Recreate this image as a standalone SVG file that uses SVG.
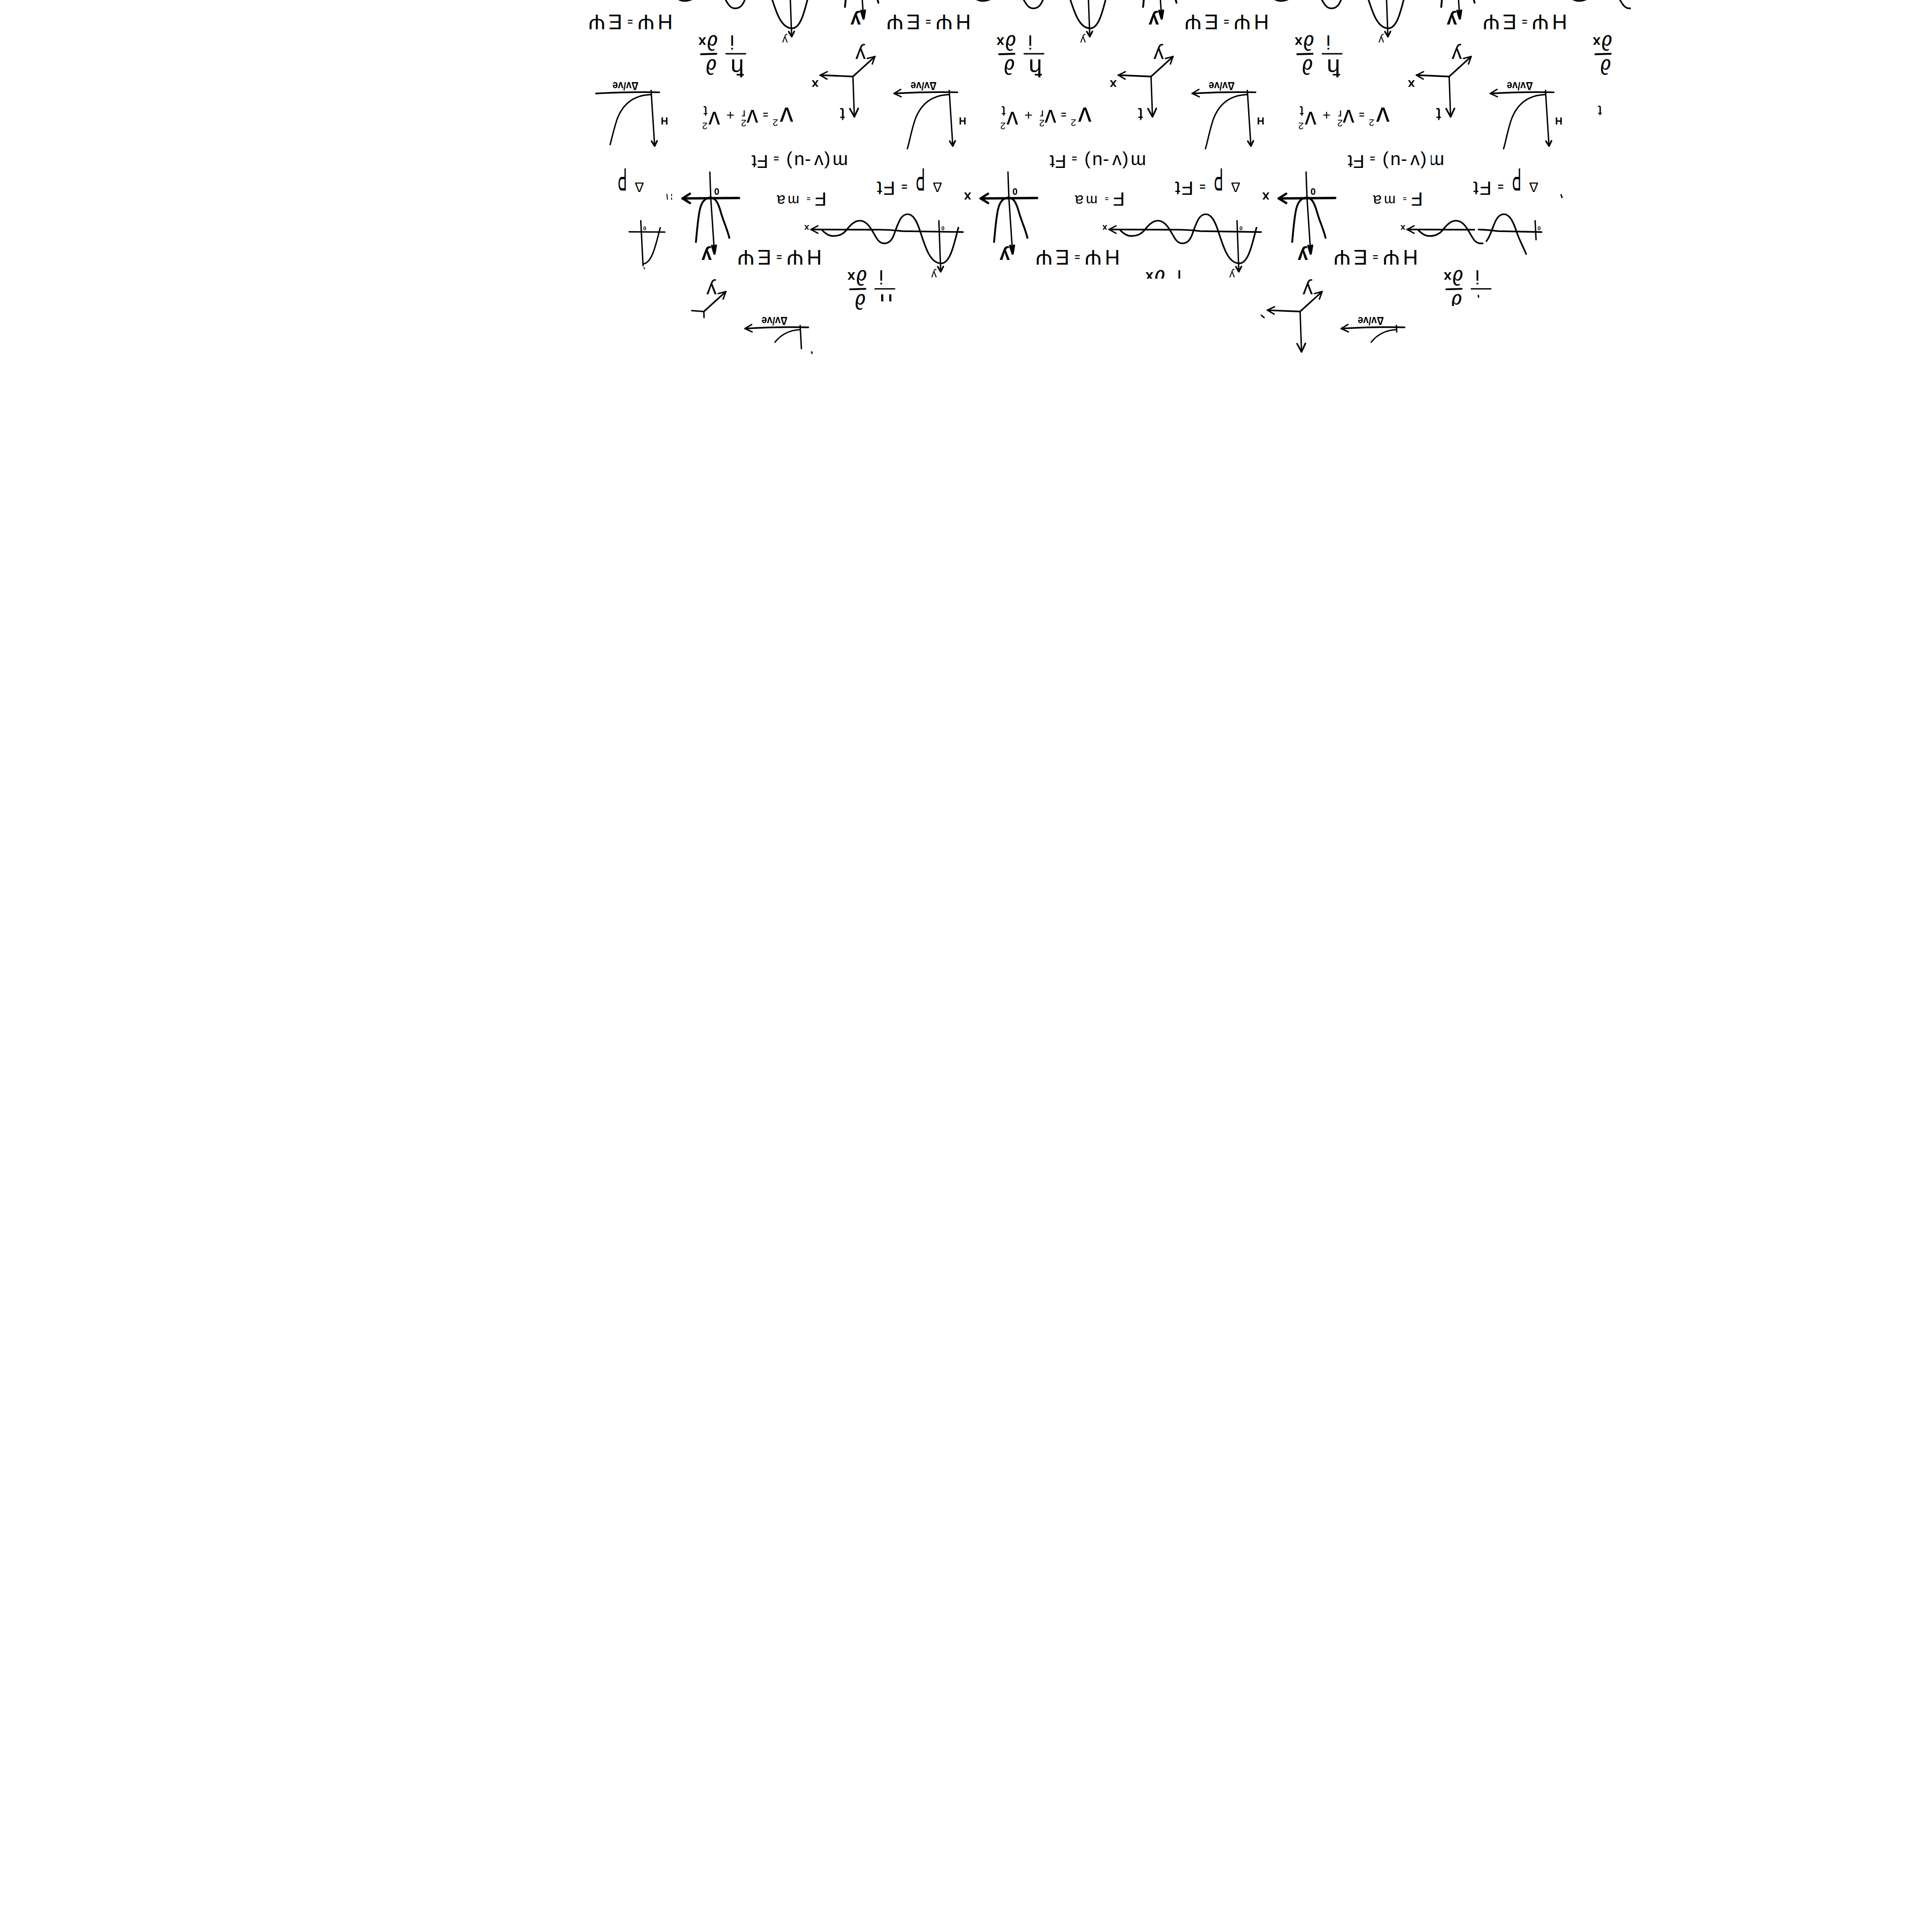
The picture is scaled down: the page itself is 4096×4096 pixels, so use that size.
<svg xmlns="http://www.w3.org/2000/svg" xmlns:xlink="http://www.w3.org/1999/xlink" width="4096" height="4096" viewBox="0 0 4096 4096">
<style>
.k{fill:none;stroke:#000;stroke-width:3;stroke-linecap:round;stroke-linejoin:round}
.w2{stroke-width:2}.w35{stroke-width:3.5}.w4{stroke-width:4}.w5{stroke-width:5}
.t{font-family:"Liberation Sans",Arial,sans-serif;fill:#000}
.a{text-anchor:middle}.b{font-weight:bold}
.s12{font-size:12px}.s14{font-size:14px}.s19{font-size:19px}.s20{font-size:20px}.s21{font-size:21px}.s22{font-size:22px}.s24{font-size:24px}.s25{font-size:25px}.s27{font-size:27px}.s28{font-size:28px}.s30{font-size:30px}.s32{font-size:32px}.s34{font-size:34px}.s40{font-size:40px}.s42{font-size:42px}.s44{font-size:44px}.s45{font-size:45px}.s46{font-size:46px}.s50{font-size:50px}.s52{font-size:52px}.s58{font-size:58px}.s70{font-size:70px}
</style>
<defs>
<marker id="h" viewBox="-20 -12 24 24" markerWidth="24" markerHeight="24" orient="auto" markerUnits="userSpaceOnUse"><path class="k" d="M-15-8L0 0L-15 8"/></marker>
<marker id="hd" viewBox="-22 -12 26 24" markerWidth="26" markerHeight="24" orient="auto" markerUnits="userSpaceOnUse"><path class="k w35" d="M-18-9L0 0L-18 9"/></marker>
<marker id="hs" viewBox="-16 -10 20 20" markerWidth="20" markerHeight="20" orient="auto" markerUnits="userSpaceOnUse"><path class="k w35" d="M-11-6L0 0L-11 6"/></marker>
<marker id="hb" viewBox="-24 -14 28 28" markerWidth="28" markerHeight="28" orient="auto" markerUnits="userSpaceOnUse"><path class="k w5" d="M-16-10L0 0L-16 10"/></marker>
<marker id="hn" viewBox="-24 -12 28 24" markerWidth="28" markerHeight="24" orient="auto" markerUnits="userSpaceOnUse"><path class="k w5" d="M-17-4L0 0L-17 4"/></marker>
<clipPath id="c93"><rect x="0" y="0" width="5000" height="94"/></clipPath>
<clipPath id="c143"><rect x="0" y="0" width="5000" height="143"/></clipPath>
<clipPath id="c153"><rect x="0" y="0" width="5000" height="153"/></clipPath>
<clipPath id="c1910"><rect x="0" y="0" width="1910" height="2000"/></clipPath>
<g id="f1"><path class="k w4" d="M1512 117L1545 116"/></g>
<g id="f2"><path class="k" d="M1566 116L1608 116"/></g>
<g id="ax3"><path class="k w35" d="M1839.6 165L1887 122" marker-end="url(#h)"/><path class="k w35" d="M1839.6 165L1769 162" marker-end="url(#h)"/><path class="k" d="M1839.6 165L1842.7 252" marker-end="url(#hd)"/></g>
<path id="e4v" class="k" d="M1404.3 195L1412 315" marker-end="url(#hs)"/>
<path id="e4a" class="k w35" d="M1422 199C1380 198 1330 199 1285.3 201.7"/>
<path id="e4ah" class="k w35" d="M1422 199C1380 198 1330 199 1285.3 201.7" marker-end="url(#h)"/>
<path id="e4c" class="k" d="M1404 204C1371 205 1345 220 1331 257C1323 280 1320 300 1314 320.7"/>
<g id="gr8"><path class="k w4" d="M1501 522C1504 490 1506 465 1510 450C1514 433 1522 427 1532 426C1543 427 1548 436 1553 452C1560 478 1568 492 1573 513"/><path class="k" d="M1531 371L1533 427L1541 547" marker-end="url(#hn)"/><path class="k w5" d="M1594 427L1472 428" marker-end="url(#hb)"/></g>
<path id="wc" class="k w35" d="M2067 491C2058 525 2050 568 2030 568C2005 568 1995 530 1985 500C1978 478 1970 462 1958 462C1943 462 1938 480 1931 498C1925 518 1918 525 1907 525C1893 525 1888 507 1880.6 497C1874 485 1865 476 1854 476C1842 476 1832 488 1825 497C1818 505 1810 509 1798 509C1787 509 1780 503 1773.5 497"/>
<path id="wa" class="k w35" d="M2077 500.5L1945 498.5C1925 496 1900 495 1880 495.5L1749 495" marker-end="url(#h)"/>
<path id="wv" class="k" d="M2025 476L2029 586" marker-end="url(#hs)"/>
</defs>
<rect width="4096" height="4096" fill="#fff"/>
<g transform="scale(0.98296)">

<g id="top-row">
<g id="w-top-0" transform="translate(-321.5 -507)"><use href="#wc"/><use href="#wv"/><text class="t s24 a" transform="translate(2014.5 585) rotate(180)">y</text></g>
<g id="w-top-1" transform="translate(321.5 -507)"><use href="#wc"/><use href="#wv"/><text class="t s24 a" transform="translate(2014.5 585) rotate(180)">y</text></g>
<g id="w-top-2" transform="translate(964.5 -507)"><use href="#wc"/><use href="#wv"/><text class="t s24 a" transform="translate(2014.5 585) rotate(180)">y</text></g>
<g id="w-top-3" transform="translate(1607.5 -507)"><g clip-path="url(#c1910)"><use href="#wc"/></g></g>
<g id="p-top-0" transform="translate(321.5 -507)"><use href="#gr8"/><text class="t s40 b a" transform="translate(1524 539) rotate(180)">y</text></g>
<g id="p-top-1" transform="translate(964.5 -507)"><use href="#gr8"/><text class="t s40 b a" transform="translate(1524 539) rotate(180)">y</text></g>
<g id="p-top-2" transform="translate(1607.5 -507)"><use href="#gr8"/><text class="t s40 b a" transform="translate(1524 539) rotate(180)">y</text></g>
</g>

<g id="tile-0-left"><path class="k" d="M1357 500L1434 500.5"/><path class="k" d="M1382 476L1387 573"/><path class="k" d="M1424 491C1415 525 1407 568 1387 569"/><path class="k w2" d="M1389 577L1390 580"/><text class="t s12 b a" transform="translate(1390.5 488) rotate(180)">0</text></g>

<g id="tile-0-0">
<text class="t s45" transform="translate(1447 32) rotate(180)"><tspan x="-4">H</tspan><tspan x="35">Ψ</tspan><tspan class="s20 b" x="82" y="-8">=</tspan><tspan x="105" y="0">E</tspan><tspan x="141">Ψ</tspan></text>
<use href="#f1"/><use href="#f2"/>
<text class="t s46" transform="translate(1548 76) rotate(180)">∂<tspan class="s30 b" x="25" y="-4">x</tspan></text>
<text class="t s46 a" transform="translate(1534 128) rotate(180)">∂</text>
<text class="t s42 a" transform="translate(1579 76) rotate(180)">i</text>
<text class="t s52 a" transform="translate(1590 128) rotate(180)">ħ</text>
<use href="#ax3"/>
<text class="t s44 a" transform="translate(1856 104) rotate(180)">y</text><text class="t s27 b a" transform="translate(1758 173) rotate(180)">x</text><text class="t s40 a" transform="translate(1817 233) rotate(180)">t</text>
<use href="#e4a"/><path class="k" d="M1404.3 195L1412 315" marker-end="url(#hs)"/><path class="k" d="M1404 204C1371 205 1345 220 1331 257C1325 275 1321 292 1316 312"/>
<text class="t s22 b a" transform="translate(1433 253) rotate(180)">H</text>
<text class="t s24 b" textLength="56" lengthAdjust="spacingAndGlyphs" transform="translate(1377 177) rotate(180)">Δv/ve</text>
<text class="t s58" transform="translate(1711 232) rotate(180)">v<tspan class="s21" x="33" y="-25">2</tspan><tspan class="s20 b" x="54" y="-8">=</tspan><tspan class="s50" x="76" y="-5">v</tspan><tspan class="s25" x="103" y="-6">r</tspan><tspan class="s21" x="101" y="-26">2</tspan><tspan class="s30" x="127" y="-6">+</tspan><tspan class="s50" x="158" y="-9">v</tspan><tspan class="s32" x="185" y="3">t</tspan><tspan class="s21" x="185" y="-33">2</tspan></text>
<text class="t s40" transform="translate(1827 335) rotate(180)"><tspan x="-2">m</tspan><tspan x="36">(</tspan><tspan x="51">v</tspan><tspan x="78">-</tspan><tspan x="92">u</tspan><tspan x="118">)</tspan><tspan class="s20 b" x="147">=</tspan><tspan x="170">F</tspan><tspan x="195">t</tspan></text>
<text class="t s30" transform="translate(1389 394) rotate(180)">Δ</text>
<text class="t s70" transform="translate(1352 363) rotate(180) scale(.42 1)">P</text>
<use href="#gr8"/>
<text class="t s20 b a" transform="translate(1546 406) rotate(180)">0</text>
<path class="k w2" d="M1438.5 419L1439.5 430M1448.5 419v3M1448.5 427v3"/>
<text class="t s40 b a" transform="translate(1524 539) rotate(180)">y</text>
<text class="t s42" transform="translate(1778 415) rotate(180)"><tspan x="-5">F</tspan><tspan class="s14 b" x="30" y="-8">=</tspan><tspan class="s30" x="54" y="-7">m</tspan><tspan class="s34" x="84" y="-6">a</tspan></text>
<use href="#wc"/><use href="#wa"/><use href="#wv"/>
<text class="t s19 b a" transform="translate(1740 485) rotate(180)">x</text><text class="t s12 b a" transform="translate(2033.5 488) rotate(180)">0</text><text class="t s24 a" transform="translate(2014.5 585) rotate(180)">y</text>
</g>

<g id="tile-0-1" transform="translate(643 0)">
<text class="t s45" transform="translate(1447 32) rotate(180)"><tspan x="-4">H</tspan><tspan x="35">Ψ</tspan><tspan class="s20 b" x="82" y="-8">=</tspan><tspan x="105" y="0">E</tspan><tspan x="141">Ψ</tspan></text>
<use href="#f1"/><use href="#f2"/>
<text class="t s46" transform="translate(1548 76) rotate(180)">∂<tspan class="s30 b" x="25" y="-4">x</tspan></text>
<text class="t s46 a" transform="translate(1534 128) rotate(180)">∂</text>
<text class="t s42 a" transform="translate(1579 76) rotate(180)">i</text>
<text class="t s52 a" transform="translate(1590 128) rotate(180)">ħ</text>
<use href="#ax3"/>
<text class="t s44 a" transform="translate(1856 104) rotate(180)">y</text><text class="t s27 b a" transform="translate(1758 173) rotate(180)">x</text><text class="t s40 a" transform="translate(1817 233) rotate(180)">t</text>
<use href="#e4ah"/><use href="#e4v"/><use href="#e4c"/>
<text class="t s22 b a" transform="translate(1433 253) rotate(180)">H</text>
<text class="t s24 b" textLength="56" lengthAdjust="spacingAndGlyphs" transform="translate(1377 177) rotate(180)">Δv/ve</text>
<text class="t s58" transform="translate(1711 232) rotate(180)">v<tspan class="s21" x="33" y="-25">2</tspan><tspan class="s20 b" x="54" y="-8">=</tspan><tspan class="s50" x="76" y="-5">v</tspan><tspan class="s25" x="103" y="-6">r</tspan><tspan class="s21" x="101" y="-26">2</tspan><tspan class="s30" x="127" y="-6">+</tspan><tspan class="s50" x="158" y="-9">v</tspan><tspan class="s32" x="185" y="3">t</tspan><tspan class="s21" x="185" y="-33">2</tspan></text>
<text class="t s40" transform="translate(1827 335) rotate(180)"><tspan x="-2">m</tspan><tspan x="36">(</tspan><tspan x="51">v</tspan><tspan x="78">-</tspan><tspan x="92">u</tspan><tspan x="118">)</tspan><tspan class="s20 b" x="147">=</tspan><tspan x="170">F</tspan><tspan x="195">t</tspan></text>
<text class="t s30" transform="translate(1389 394) rotate(180)">Δ</text>
<text class="t s70" transform="translate(1352 363) rotate(180) scale(.42 1)">P</text>
<text class="t s42" transform="translate(1314 392) rotate(180)"><tspan class="s22 b" y="-3">=</tspan><tspan x="26" y="0">F</tspan><tspan x="54">t</tspan></text>
<use href="#gr8"/>
<text class="t s20 b a" transform="translate(1546 406) rotate(180)">0</text>
<text class="t s28 b a" transform="translate(1444 415) rotate(180)">x</text>
<text class="t s40 b a" transform="translate(1524 539) rotate(180)">y</text>
<text class="t s42" transform="translate(1778 415) rotate(180)"><tspan x="-5">F</tspan><tspan class="s14 b" x="30" y="-8">=</tspan><tspan class="s30" x="54" y="-7">m</tspan><tspan class="s34" x="84" y="-6">a</tspan></text>
<use href="#wc"/><use href="#wa"/><use href="#wv"/>
<text class="t s19 b a" transform="translate(1740 485) rotate(180)">x</text><text class="t s12 b a" transform="translate(2033.5 488) rotate(180)">0</text><text class="t s24 a" transform="translate(2014.5 585) rotate(180)">y</text>
</g>

<g id="tile-0-2" transform="translate(1286 0)">
<text class="t s45" transform="translate(1447 32) rotate(180)"><tspan x="-4">H</tspan><tspan x="35">Ψ</tspan><tspan class="s20 b" x="82" y="-8">=</tspan><tspan x="105" y="0">E</tspan><tspan x="141">Ψ</tspan></text>
<use href="#f1"/><use href="#f2"/>
<text class="t s46" transform="translate(1548 76) rotate(180)">∂<tspan class="s30 b" x="25" y="-4">x</tspan></text>
<text class="t s46 a" transform="translate(1534 128) rotate(180)">∂</text>
<text class="t s42 a" transform="translate(1579 76) rotate(180)">i</text>
<text class="t s52 a" transform="translate(1590 128) rotate(180)">ħ</text>
<use href="#ax3"/>
<text class="t s44 a" transform="translate(1856 104) rotate(180)">y</text><text class="t s27 b a" transform="translate(1758 173) rotate(180)">x</text><text class="t s40 a" transform="translate(1817 233) rotate(180)">t</text>
<use href="#e4ah"/><use href="#e4v"/><use href="#e4c"/>
<text class="t s22 b a" transform="translate(1433 253) rotate(180)">H</text>
<text class="t s24 b" textLength="56" lengthAdjust="spacingAndGlyphs" transform="translate(1377 177) rotate(180)">Δv/ve</text>
<text class="t s58" transform="translate(1711 232) rotate(180)">v<tspan class="s21" x="33" y="-25">2</tspan><tspan class="s20 b" x="54" y="-8">=</tspan><tspan class="s50" x="76" y="-5">v</tspan><tspan class="s25" x="103" y="-6">r</tspan><tspan class="s21" x="101" y="-26">2</tspan><tspan class="s30" x="127" y="-6">+</tspan><tspan class="s50" x="158" y="-9">v</tspan><tspan class="s32" x="185" y="3">t</tspan><tspan class="s21" x="185" y="-33">2</tspan></text>
<text class="t s40" transform="translate(1827 335) rotate(180)"><tspan x="-2">m</tspan><tspan x="36">(</tspan><tspan x="51">v</tspan><tspan x="78">-</tspan><tspan x="92">u</tspan><tspan x="118">)</tspan><tspan class="s20 b" x="147">=</tspan><tspan x="170">F</tspan><tspan x="195">t</tspan></text>
<rect x="1794" y="335" width="6" height="30" fill="#fff"/>
<text class="t s30" transform="translate(1389 394) rotate(180)">Δ</text>
<text class="t s70" transform="translate(1352 363) rotate(180) scale(.42 1)">P</text>
<text class="t s42" transform="translate(1314 392) rotate(180)"><tspan class="s22 b" y="-3">=</tspan><tspan x="26" y="0">F</tspan><tspan x="54">t</tspan></text>
<use href="#gr8"/>
<text class="t s20 b a" transform="translate(1546 406) rotate(180)">0</text>
<text class="t s28 b a" transform="translate(1444 415) rotate(180)">x</text>
<text class="t s40 b a" transform="translate(1524 539) rotate(180)">y</text>
<text class="t s42" transform="translate(1778 415) rotate(180)"><tspan x="-5">F</tspan><tspan class="s14 b" x="30" y="-8">=</tspan><tspan class="s30" x="54" y="-7">m</tspan><tspan class="s34" x="84" y="-6">a</tspan></text>
<path class="k w35" d="M2039 500.5L1945 498.5C1925 496 1912 495.5 1903 495M1894 495.5L1749 495" marker-end="url(#h)"/>
<path class="k w35" d="M2005.7 548C1998 530 1990 515 1985 500C1978 478 1970 462 1958 462C1943 462 1938 480 1931 498C1928 506 1925 513 1920 520M1912 525L1907 525C1893 525 1888 507 1880.6 497C1874 485 1865 476 1854 476C1842 476 1832 488 1825 497C1818 505 1810 509 1798 509C1787 509 1780 503 1773.5 497"/>
<path class="k" d="M2025 476L2027 517"/>
<text class="t s19 b a" transform="translate(1740 485) rotate(180)">x</text><text class="t s12 b a" transform="translate(2033.5 488) rotate(180)">0</text>
</g>

<g id="tile-0-3" transform="translate(1929 0)">
<text class="t s45" transform="translate(1447 32) rotate(180)"><tspan x="-4">H</tspan><tspan x="35">Ψ</tspan><tspan class="s20 b" x="82" y="-8">=</tspan><tspan x="105" y="0">E</tspan><tspan x="141">Ψ</tspan></text>
<use href="#f1"/>
<text class="t s46" transform="translate(1548 76) rotate(180)">∂<tspan class="s30 b" x="25" y="-4">x</tspan></text>
<text class="t s46 a" transform="translate(1534 128) rotate(180)">∂</text>
<use href="#e4ah"/><use href="#e4v"/><use href="#e4c"/>
<text class="t s22 b a" transform="translate(1433 253) rotate(180)">H</text>
<text class="t s24 b" textLength="56" lengthAdjust="spacingAndGlyphs" transform="translate(1377 177) rotate(180)">Δv/ve</text>
<text class="t s32" transform="translate(1526 228) rotate(180)">t</text>
<text class="t s30" transform="translate(1389 394) rotate(180)">Δ</text>
<text class="t s70" transform="translate(1352 363) rotate(180) scale(.42 1)">P</text>
<text class="t s42" transform="translate(1314 392) rotate(180)"><tspan class="s22 b" y="-3">=</tspan><tspan x="26" y="0">F</tspan><tspan x="54">t</tspan></text>
<path class="k" d="M1438 420L1440 426"/>
</g>

<g id="tile-1-0" transform="translate(321.5 507)">
<text class="t s45" transform="translate(1447 32) rotate(180)"><tspan x="-4">H</tspan><tspan x="35">Ψ</tspan><tspan class="s20 b" x="82" y="-8">=</tspan><tspan x="105" y="0">E</tspan><tspan x="141">Ψ</tspan></text>
<use href="#f1"/><use href="#f2"/>
<text class="t s46" transform="translate(1548 76) rotate(180)">∂<tspan class="s30 b" x="25" y="-4">x</tspan></text>
<text class="t s46 a" transform="translate(1534 128) rotate(180)">∂</text>
<text class="t s42 a" transform="translate(1579 76) rotate(180)">i</text>
<g clip-path="url(#c143)"><text class="t s52 a" transform="translate(1590 128) rotate(180)">ħ</text></g>
<use href="#e4ah"/><path class="k" d="M1404.3 195L1407 245"/><path class="k" d="M1404 204C1385 205 1365 212 1350 231"/>
<text class="t s24 b" textLength="56" lengthAdjust="spacingAndGlyphs" transform="translate(1377 177) rotate(180)">Δv/ve</text>
<path class="k" d="M1429 252L1430 255"/>
</g>

<g id="tile-1-1" transform="translate(964.5 507)">
<text class="t s45" transform="translate(1447 32) rotate(180)"><tspan x="-4">H</tspan><tspan x="35">Ψ</tspan><tspan class="s20 b" x="82" y="-8">=</tspan><tspan x="105" y="0">E</tspan><tspan x="141">Ψ</tspan></text>
<g clip-path="url(#c93)"><text class="t s46" transform="translate(1548 76) rotate(180)">∂<tspan class="s30 b" x="25" y="-4">x</tspan></text><text class="t s42 a" transform="translate(1579 76) rotate(180)">i</text></g>
</g>
<g id="axes-1-1" transform="translate(964.5 507)">
<use href="#ax3"/><text class="t s44 a" transform="translate(1856 104) rotate(180)">y</text><path class="k" d="M1756 173L1762 178"/>
</g>

<g id="tile-1-2" transform="translate(1607.5 507)">
<text class="t s45" transform="translate(1447 32) rotate(180)"><tspan x="-4">H</tspan><tspan x="35">Ψ</tspan><tspan class="s20 b" x="82" y="-8">=</tspan><tspan x="105" y="0">E</tspan><tspan x="141">Ψ</tspan></text>
<use href="#f1"/><use href="#f2"/>
<text class="t s46" transform="translate(1548 76) rotate(180)">∂<tspan class="s30 b" x="25" y="-4">x</tspan></text>
<g clip-path="url(#c153)"><text class="t s46 a" transform="translate(1534 128) rotate(180)">∂</text></g>
<text class="t s42 a" transform="translate(1579 76) rotate(180)">i</text>
<path class="k" d="M1581 130L1581.5 134"/>
<use href="#e4ah"/><path class="k" d="M1404.3 195L1405 209"/><path class="k" d="M1404 204C1385 205 1365 212 1350 231"/>
<text class="t s24 b" textLength="56" lengthAdjust="spacingAndGlyphs" transform="translate(1377 177) rotate(180)">Δv/ve</text>
</g>

<g id="axes-1-left" transform="translate(-321.5 507)">
<path class="k w35" d="M1839.6 165L1887 122" marker-end="url(#h)"/><path class="k" d="M1839.6 165L1813.5 163M1839.6 165L1840 178"/>
<text class="t s44 a" transform="translate(1856 104) rotate(180)">y</text>
</g>
</g>
</svg>
